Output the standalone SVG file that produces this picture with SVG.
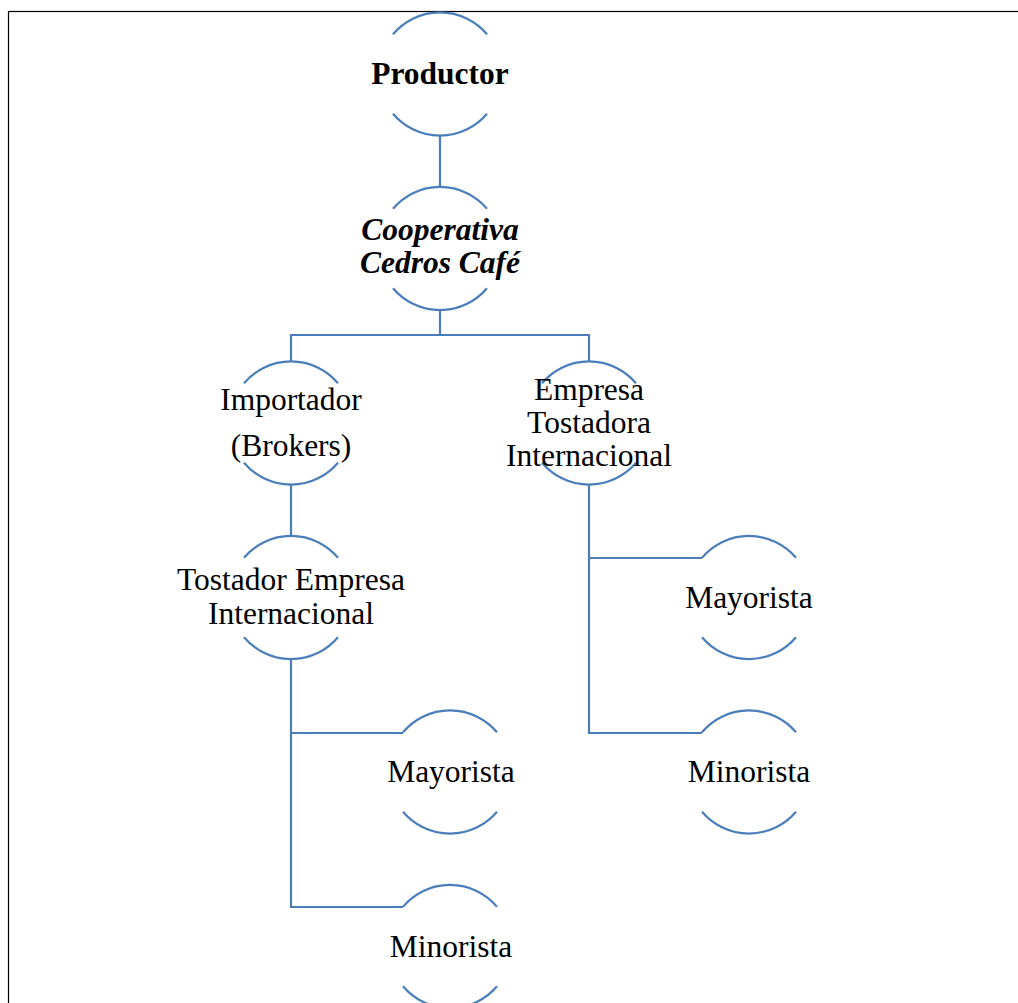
<svg xmlns="http://www.w3.org/2000/svg" width="1018" height="1003" viewBox="0 0 1018 1003">
<style>
.arc{fill:none;stroke:#4A7EBB;stroke-width:2.2}
.con{fill:none;stroke:#4A7EBB;stroke-width:2.2}
.t{font-family:"Liberation Serif","Times New Roman",serif;font-size:31.5px;fill:#000;text-anchor:middle}
.b{font-weight:bold}
.bi{font-weight:bold;font-style:italic}
</style>
<rect x="8.5" y="11.5" width="1030" height="1010" fill="#fff" stroke="#000" stroke-width="1.2"/>
<g id="connectors">
<path class="con" d="M440 135.5V187"/>
<path class="con" d="M440 310V335M291 361.5V335H589V361.5"/>
<path class="con" d="M291 484.5V536"/>
<path class="con" d="M291 659V907H403M291 733H403"/>
<path class="con" d="M589 484.5V733H702M589 558H702"/>
</g>
<g id="productor">
<path class="arc" d="M393 34.3A61.5 61.5 0 0 1 487 34.3M393 113.7A61.5 61.5 0 0 0 487 113.7"/>
<text class="t b" x="440" y="84.3">Productor</text>
</g>
<g id="cooperativa">
<path class="arc" d="M393 208.8A61.5 61.5 0 0 1 487 208.8M393 288.2A61.5 61.5 0 0 0 487 288.2"/>
<text class="t bi" x="440" y="240">Cooperativa</text>
<text class="t bi" x="440" y="273.3">Cedros Café</text>
</g>
<g id="importador">
<path class="arc" d="M244 383.3A61.5 61.5 0 0 1 338 383.3M244 462.7A61.5 61.5 0 0 0 338 462.7"/>
<text class="t" x="291" y="410">Importador</text>
<text class="t" x="291" y="455.7">(Brokers)</text>
</g>
<g id="empresa-tostadora">
<path class="arc" d="M542 383.3A61.5 61.5 0 0 1 636 383.3M542 462.7A61.5 61.5 0 0 0 636 462.7"/>
<text class="t" x="589" y="400">Empresa</text>
<text class="t" x="589" y="432.7">Tostadora</text>
<text class="t" x="589" y="465.7">Internacional</text>
</g>
<g id="tostador-empresa">
<path class="arc" d="M244 557.8A61.5 61.5 0 0 1 338 557.8M244 637.2A61.5 61.5 0 0 0 338 637.2"/>
<text class="t" x="291" y="590">Tostador Empresa</text>
<text class="t" x="291" y="623.5">Internacional</text>
</g>
<g id="mayorista-right">
<path class="arc" d="M702 557.8A61.5 61.5 0 0 1 796 557.8M702 637.2A61.5 61.5 0 0 0 796 637.2"/>
<text class="t" x="749" y="608">Mayorista</text>
</g>
<g id="minorista-right">
<path class="arc" d="M702 732.3A61.5 61.5 0 0 1 796 732.3M702 811.7A61.5 61.5 0 0 0 796 811.7"/>
<text class="t" x="749" y="782">Minorista</text>
</g>
<g id="mayorista-left">
<path class="arc" d="M403 732.3A61.5 61.5 0 0 1 497 732.3M403 811.7A61.5 61.5 0 0 0 497 811.7"/>
<text class="t" x="451" y="782">Mayorista</text>
</g>
<g id="minorista-left">
<path class="arc" d="M403 906.8A61.5 61.5 0 0 1 497 906.8M403 986.2A61.5 61.5 0 0 0 497 986.2"/>
<text class="t" x="451" y="957">Minorista</text>
</g>
</svg>
